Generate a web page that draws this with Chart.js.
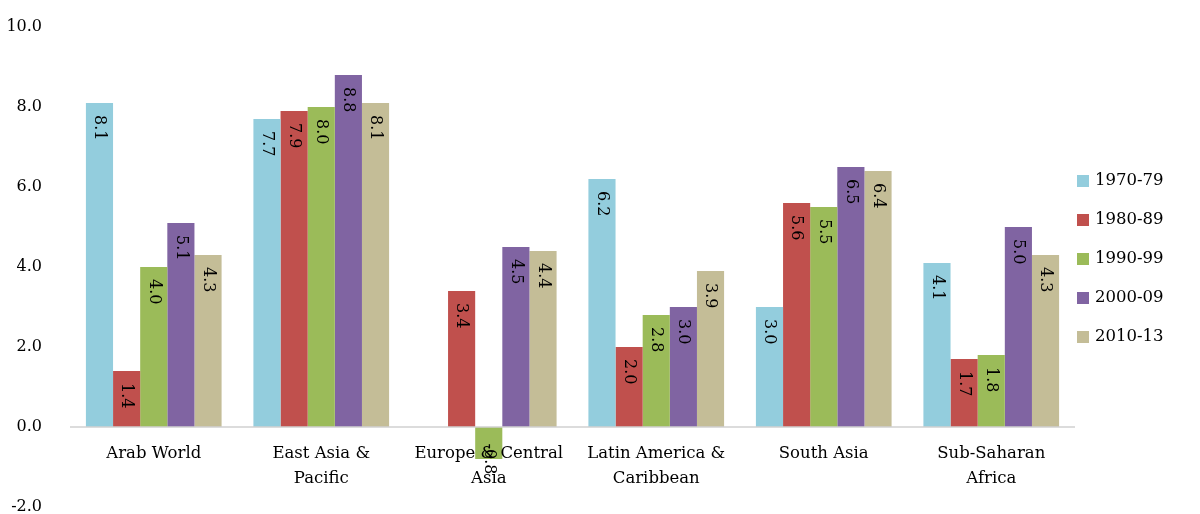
<!DOCTYPE html>
<html><head><meta charset="utf-8">
<script src="https://cdn.jsdelivr.net/npm/chart.js@4"></script>
<style>html,body{margin:0;background:#fff}#w{width:1200px;height:514px}</style>
</head><body><div id="w"><canvas id="c"></canvas></div>
<script>
const categories=[["Arab World"],["East Asia &","Pacific"],["Europe & Central","Asia"],["Latin America &","Caribbean"],["South Asia"],["Sub-Saharan","Africa"]];
const seriesNames=["1970-79","1980-89","1990-99","2000-09","2010-13"];
const s1970=[8.1,7.7,null,6.2,3.0,4.1];
const s1980=[1.4,7.9,3.4,2.0,5.6,1.7];
const s1990=[4.0,8.0,-0.8,2.8,5.5,1.8];
const s2000=[5.1,8.8,4.5,3.0,6.5,5.0];
const s2010=[4.3,8.1,4.4,3.9,6.4,4.3];
const colors=["#93CDDD","#C0504D","#9BBB59","#8064A2","#C4BD97"];
const FONT='"DejaVu Serif", "Liberation Serif", serif';
const all=[s1970,s1980,s1990,s2000,s2010];
const labelsPlugin={id:'lbl',afterDatasetsDraw(ch){
  const ctx=ch.ctx, y=ch.scales.y, x=ch.scales.x;
  ctx.save();ctx.fillStyle='#000';ctx.font='16px '+FONT;
  ch.data.datasets.forEach((ds,i)=>{
    ch.getDatasetMeta(i).data.forEach((b,j)=>{
      const v=ds.data[j]; if(v==null) return;
      ctx.save();ctx.translate(b.x,b.y);ctx.rotate(Math.PI/2);
      ctx.textBaseline='middle';
      if(v>=0){ctx.textAlign='left';ctx.fillText(v.toFixed(1),12,0);}
      else{ctx.textAlign='center';ctx.fillText(v.toFixed(1),0,0);}
      ctx.restore();
    });
  });
  const z=y.getPixelForValue(0);
  ctx.strokeStyle='#D0D0D0';ctx.lineWidth=1.5;ctx.beginPath();ctx.moveTo(ch.chartArea.left,z);ctx.lineTo(ch.chartArea.right,z);ctx.stroke();
  ctx.font='16.5px '+FONT;ctx.textAlign='center';ctx.textBaseline='middle';
  categories.forEach((c,j)=>{const px=x.getPixelForValue(j);c.forEach((t,k)=>ctx.fillText(t,px,z+27+k*25));});
  ctx.textAlign='left';
  seriesNames.forEach((n,i)=>{const yy=181+i*39;ctx.fillStyle=colors[i];ctx.fillRect(1077,yy-6,12,12);ctx.fillStyle='#000';ctx.fillText(n,1095,yy);});
  ctx.restore();
}};
new Chart(document.getElementById('c'),{type:'bar',
 data:{labels:categories.map(c=>c.join(' ')),datasets:all.map((d,i)=>({label:seriesNames[i],data:d,backgroundColor:colors[i],borderWidth:0}))},
 options:{responsive:true,maintainAspectRatio:false,animation:false,
  datasets:{bar:{barPercentage:1,categoryPercentage:0.81}},
  layout:{padding:{left:0,right:125,top:27,bottom:7}},
  plugins:{legend:{display:false},tooltip:{enabled:false}},
  scales:{x:{display:false},
   y:{min:-2,max:10,ticks:{stepSize:2,callback:v=>v.toFixed(1),color:'#000',font:{size:16,family:FONT},padding:20},grid:{display:false},border:{display:false},afterFit(s){s.width=70;s.paddingTop=0;s.paddingBottom=0;}}}},
 plugins:[labelsPlugin]});
</script></body></html>
